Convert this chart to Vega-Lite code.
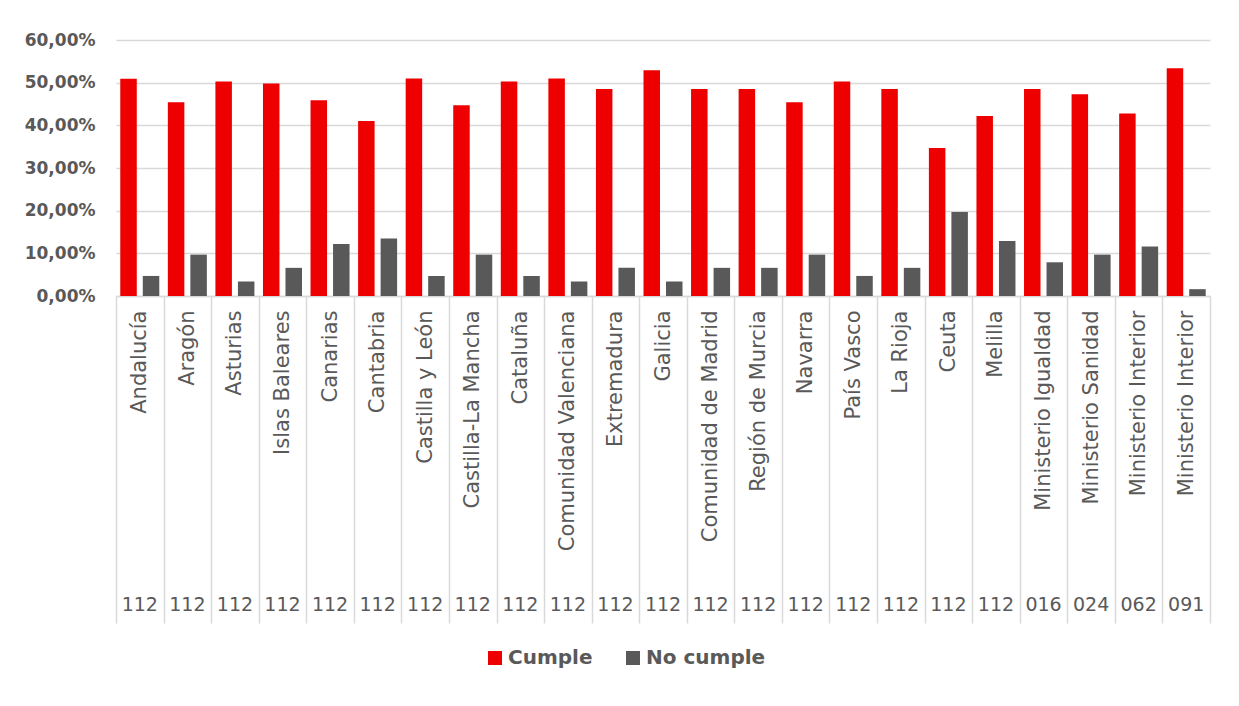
{
  "$schema": "https://vega.github.io/schema/vega-lite/v6.json",
  "width": 1094,
  "height": 256,
  "autosize": {"type": "none"},
  "padding": {"left": 116, "top": 40, "right": 29, "bottom": 410},
  "background": "white",
  "config": {"font": "DejaVu Sans", "view": {"stroke": null}},
  "data": {
    "values": [
      {"clave": "Andalucía|112", "serie": "Cumple", "valor": 0.509},
      {"clave": "Andalucía|112", "serie": "No cumple", "valor": 0.047},
      {"clave": "Aragón|112", "serie": "Cumple", "valor": 0.454},
      {"clave": "Aragón|112", "serie": "No cumple", "valor": 0.097},
      {"clave": "Asturias|112", "serie": "Cumple", "valor": 0.503},
      {"clave": "Asturias|112", "serie": "No cumple", "valor": 0.034},
      {"clave": "Islas Baleares|112", "serie": "Cumple", "valor": 0.498},
      {"clave": "Islas Baleares|112", "serie": "No cumple", "valor": 0.066},
      {"clave": "Canarias|112", "serie": "Cumple", "valor": 0.459},
      {"clave": "Canarias|112", "serie": "No cumple", "valor": 0.122},
      {"clave": "Cantabria|112", "serie": "Cumple", "valor": 0.410},
      {"clave": "Cantabria|112", "serie": "No cumple", "valor": 0.135},
      {"clave": "Castilla y León|112", "serie": "Cumple", "valor": 0.510},
      {"clave": "Castilla y León|112", "serie": "No cumple", "valor": 0.047},
      {"clave": "Castilla-La Mancha|112", "serie": "Cumple", "valor": 0.447},
      {"clave": "Castilla-La Mancha|112", "serie": "No cumple", "valor": 0.097},
      {"clave": "Cataluña|112", "serie": "Cumple", "valor": 0.503},
      {"clave": "Cataluña|112", "serie": "No cumple", "valor": 0.047},
      {"clave": "Comunidad Valenciana|112", "serie": "Cumple", "valor": 0.510},
      {"clave": "Comunidad Valenciana|112", "serie": "No cumple", "valor": 0.034},
      {"clave": "Extremadura|112", "serie": "Cumple", "valor": 0.485},
      {"clave": "Extremadura|112", "serie": "No cumple", "valor": 0.066},
      {"clave": "Galicia|112", "serie": "Cumple", "valor": 0.529},
      {"clave": "Galicia|112", "serie": "No cumple", "valor": 0.034},
      {"clave": "Comunidad de Madrid|112", "serie": "Cumple", "valor": 0.485},
      {"clave": "Comunidad de Madrid|112", "serie": "No cumple", "valor": 0.066},
      {"clave": "Región de Murcia|112", "serie": "Cumple", "valor": 0.485},
      {"clave": "Región de Murcia|112", "serie": "No cumple", "valor": 0.066},
      {"clave": "Navarra|112", "serie": "Cumple", "valor": 0.454},
      {"clave": "Navarra|112", "serie": "No cumple", "valor": 0.097},
      {"clave": "País Vasco|112", "serie": "Cumple", "valor": 0.503},
      {"clave": "País Vasco|112", "serie": "No cumple", "valor": 0.047},
      {"clave": "La Rioja|112", "serie": "Cumple", "valor": 0.485},
      {"clave": "La Rioja|112", "serie": "No cumple", "valor": 0.066},
      {"clave": "Ceuta|112", "serie": "Cumple", "valor": 0.347},
      {"clave": "Ceuta|112", "serie": "No cumple", "valor": 0.197},
      {"clave": "Melilla|112", "serie": "Cumple", "valor": 0.422},
      {"clave": "Melilla|112", "serie": "No cumple", "valor": 0.129},
      {"clave": "Ministerio Igualdad|016", "serie": "Cumple", "valor": 0.485},
      {"clave": "Ministerio Igualdad|016", "serie": "No cumple", "valor": 0.079},
      {"clave": "Ministerio Sanidad|024", "serie": "Cumple", "valor": 0.473},
      {"clave": "Ministerio Sanidad|024", "serie": "No cumple", "valor": 0.097},
      {"clave": "Ministerio Interior|062", "serie": "Cumple", "valor": 0.428},
      {"clave": "Ministerio Interior|062", "serie": "No cumple", "valor": 0.116},
      {"clave": "Ministerio Interior|091", "serie": "Cumple", "valor": 0.534},
      {"clave": "Ministerio Interior|091", "serie": "No cumple", "valor": 0.016}
    ]
  },
  "layer": [
    {
      "mark": {"type": "bar"},
      "encoding": {
        "x": {
          "field": "clave",
          "type": "nominal",
          "sort": null,
          "scale": {"paddingInner": 0, "paddingOuter": 0},
          "axis": {
            "orient": "bottom",
            "title": null,
            "labelExpr": "split(datum.label, '|')[0]",
            "labelAngle": -90,
            "labelFontSize": 21,
            "labelColor": "#595959",
            "labelPadding": -313,
            "labelOverlap": false,
            "labelBound": false,
            "labelLimit": 400,
            "tickBand": "extent",
            "tickSize": 327,
            "tickColor": "#d9d9d9",
            "tickWidth": 1.5,
            "domainColor": "#d9d9d9",
            "domainWidth": 1.5,
            "grid": false
          }
        },
        "xOffset": {
          "field": "serie",
          "sort": ["Cumple", "No cumple"],
          "scale": {"paddingInner": 0.267, "paddingOuter": 0.19}
        },
        "y": {
          "field": "valor",
          "type": "quantitative",
          "scale": {"domain": [0, 0.6]},
          "axis": {
            "title": null,
            "values": [0, 0.1, 0.2, 0.3, 0.4, 0.5, 0.6],
            "labelExpr": "replace(format(datum.value, '.2%'), '.', ',')",
            "labelFontSize": 17,
            "labelFontWeight": "bold",
            "labelColor": "#595959",
            "labelPadding": 21,
            "ticks": false,
            "domain": false,
            "gridColor": "#d9d9d9",
            "gridWidth": 1.5
          }
        },
        "color": {
          "field": "serie",
          "type": "nominal",
          "scale": {"domain": ["Cumple", "No cumple"], "range": ["#ee0000", "#595959"]},
          "legend": {
            "orient": "none",
            "legendX": 369,
            "legendY": 608,
            "direction": "horizontal",
            "title": null,
            "symbolType": "square",
            "symbolSize": 196,
            "symbolStrokeWidth": 0,
            "labelFontSize": 20,
            "labelFontWeight": "bold",
            "labelColor": "#595959",
            "labelOffset": 3,
            "columnPadding": 30
          }
        }
      }
    },
    {
      "mark": {"type": "text", "text": ""},
      "encoding": {
        "x": {
          "field": "clave",
          "type": "nominal",
          "sort": null,
          "axis": {
            "orient": "bottom",
            "title": null,
            "labelExpr": "split(datum.label, '|')[1]",
            "labelAngle": 0,
            "labelFontSize": 19,
            "labelColor": "#595959",
            "labelPadding": 299,
            "labelOverlap": false,
            "ticks": false,
            "domain": false,
            "grid": false
          }
        }
      }
    }
  ],
  "resolve": {"axis": {"x": "independent"}}
}
